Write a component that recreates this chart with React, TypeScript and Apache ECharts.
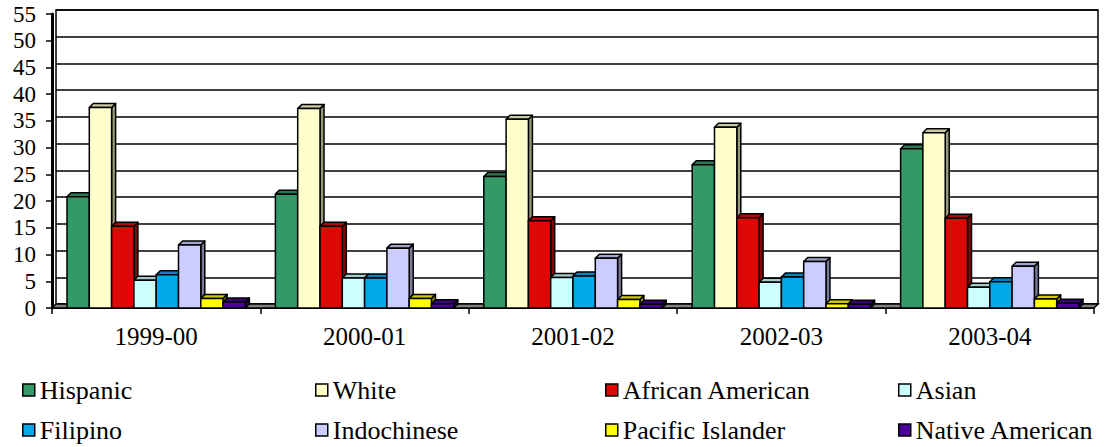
import React, { useEffect, useRef } from "react";
import * as echarts from "echarts";

const categories = ["1999-00", "2000-01", "2001-02", "2002-03", "2003-04"];
const seriesNames = [
  "Hispanic",
  "White",
  "African American",
  "Asian",
  "Filipino",
  "Indochinese",
  "Pacific Islander",
  "Native American",
];
const hispanic = [20.8, 21.3, 24.6, 26.8, 29.8];
const white = [37.5, 37.3, 35.3, 33.8, 32.8];
const africanAmerican = [15.3, 15.3, 16.3, 16.9, 16.8];
const asian = [5.2, 5.6, 5.7, 4.8, 3.9];
const filipino = [6.2, 5.6, 6.0, 5.8, 4.9];
const indochinese = [11.8, 11.2, 9.3, 8.7, 7.8];
const pacificIslander = [1.8, 1.8, 1.6, 0.8, 1.7];
const nativeAmerican = [1.1, 0.8, 0.7, 0.7, 0.9];
const seriesValues = [
  hispanic,
  white,
  africanAmerican,
  asian,
  filipino,
  indochinese,
  pacificIslander,
  nativeAmerican,
];
const colors = [
  "#339966",
  "#FFFFCC",
  "#DD0806",
  "#CCFFFF",
  "#00A8E8",
  "#CCCCFF",
  "#FFFF00",
  "#4B0099",
];

const FONT = "Times New Roman";
const D = 4;
const GROUP_FRACTION = 0.856;

function shade(hex: string, f: number): string {
  const n = parseInt(hex.slice(1), 16);
  const r = Math.round(((n >> 16) & 255) * f);
  const g = Math.round(((n >> 8) & 255) * f);
  const b = Math.round((n & 255) * f);
  return `rgb(${r},${g},${b})`;
}

export default function App() {
  const ref = useRef<HTMLDivElement>(null);
  useEffect(() => {
    document.body.style.margin = "0";
    if (!ref.current) return;
    const chart = echarts.init(ref.current, undefined, { renderer: "svg" });

    const barSeries = seriesNames.map((name, si) => ({
      name,
      type: "custom",
      coordinateSystem: "cartesian2d",
      xAxisIndex: 0,
      yAxisIndex: 0,
      z: 3,
      itemStyle: { color: colors[si], borderColor: "#000", borderWidth: 1.5 },
      data: seriesValues[si].map((v, ci) => [ci, v]),
      renderItem: (params: any, api: any) => {
        const ci = api.value(0);
        const v = api.value(1);
        const top = api.coord([ci, v]);
        const base = api.coord([ci, 0]);
        const band = api.size([1, 0])[0];
        const bw = (band * GROUP_FRACTION) / seriesNames.length;
        const x0 = top[0] - (band * GROUP_FRACTION) / 2 + si * bw;
        const x1 = x0 + bw;
        const yT = top[1];
        const yB = base[1];
        const stroke = { stroke: "#000", lineWidth: 1.5, lineJoin: "round" };
        return {
          type: "group",
          children: [
            {
              type: "polygon",
              shape: {
                points: [
                  [x1, yT],
                  [x1 + D, yT - D],
                  [x1 + D, yB - D],
                  [x1, yB],
                ],
              },
              style: { fill: shade(colors[si], 0.6), ...stroke },
            },
            {
              type: "polygon",
              shape: {
                points: [
                  [x0, yT],
                  [x1, yT],
                  [x1 + D, yT - D],
                  [x0 + D, yT - D],
                ],
              },
              style: { fill: shade(colors[si], 0.8), ...stroke },
            },
            {
              type: "rect",
              shape: { x: x0, y: yT, width: bw, height: yB - yT },
              style: { fill: colors[si], ...stroke },
            },
          ],
        };
      },
    }));

    const floorSeries = {
      name: "floor",
      type: "custom",
      coordinateSystem: "cartesian2d",
      xAxisIndex: 0,
      yAxisIndex: 0,
      z: 2,
      silent: true,
      data: [[0, 0]],
      renderItem: (params: any) => {
        const cs = params.coordSys;
        const yb = cs.y + cs.height;
        return {
          type: "polygon",
          shape: {
            points: [
              [cs.x, yb],
              [cs.x + cs.width, yb],
              [cs.x + cs.width + D, yb - D],
              [cs.x + D, yb - D],
            ],
          },
          style: { fill: "#808080", stroke: "#000", lineWidth: 1.5 },
        };
      },
    };

    const cols = [22, 315, 605, 898];
    const legends = cols.map((left, c) => ({
      orient: "vertical",
      left,
      top: 376,
      padding: 0,
      data: [seriesNames[c], seriesNames[c + 4]],
      icon: "rect",
      itemWidth: 12,
      itemHeight: 12,
      itemGap: 12,
      selectedMode: false,
      itemStyle: { borderColor: "#000", borderWidth: 1.5 },
      textStyle: { fontFamily: FONT, fontSize: 26, color: "#000", lineHeight: 28 },
    }));

    chart.setOption({
      animation: false,
      backgroundColor: "#fff",
      textStyle: { fontFamily: FONT },
      grid: [
        { left: 52, right: 12, top: 14, height: 294, show: false },
        {
          left: 52 + D,
          right: 12 - D,
          top: 14 - D,
          height: 294,
          show: true,
          borderColor: "#000",
          borderWidth: 1.5,
          backgroundColor: "transparent",
        },
      ],
      xAxis: [
        {
          type: "category",
          gridIndex: 0,
          data: categories,
          axisLine: { show: true, lineStyle: { color: "#000", width: 2 } },
          axisTick: { show: true, length: 6, lineStyle: { color: "#000", width: 1.5 } },
          axisLabel: { fontFamily: FONT, fontSize: 25, color: "#000", margin: 16 },
          splitLine: { show: false },
        },
        {
          type: "category",
          gridIndex: 1,
          data: categories,
          show: false,
        },
      ],
      yAxis: [
        {
          type: "value",
          gridIndex: 0,
          min: 0,
          max: 55,
          interval: 5,
          axisLine: { show: true, lineStyle: { color: "#000", width: 3 } },
          axisTick: { show: true, length: 6, lineStyle: { color: "#000", width: 1.5 } },
          axisLabel: { fontFamily: FONT, fontSize: 23, color: "#000", margin: 16 },
          splitLine: { show: false },
        },
        {
          type: "value",
          gridIndex: 1,
          min: 0,
          max: 55,
          interval: 5,
          axisLine: { show: false },
          axisTick: { show: false },
          axisLabel: { show: false },
          splitLine: { show: true, lineStyle: { color: "#000", width: 1.5 } },
        },
      ],
      legend: legends,
      series: [floorSeries, ...barSeries],
    });

    return () => chart.dispose();
  }, []);

  return <div ref={ref} style={{ width: 1106, height: 447 }} />;
}
